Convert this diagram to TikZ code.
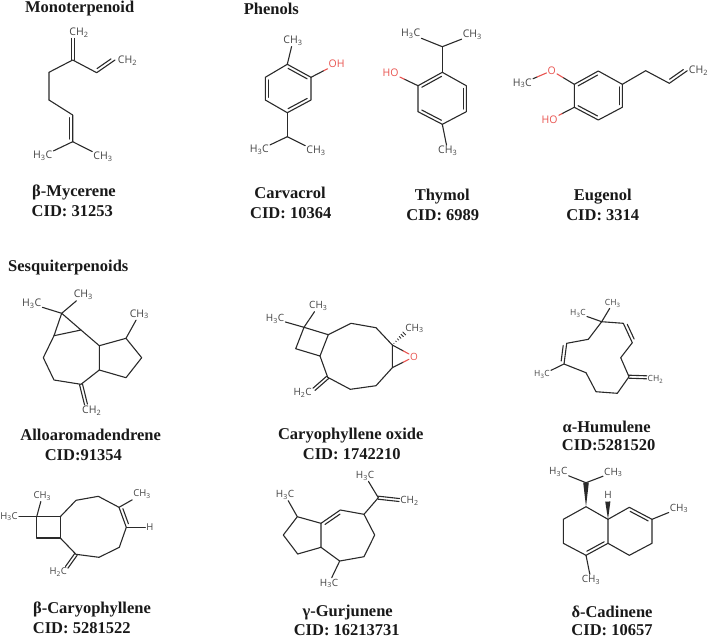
\documentclass[tikz,border=0pt]{standalone}
\usepackage{fontspec}
\usetikzlibrary{calc}
\setmainfont{Liberation Serif}
\newfontfamily\chemfont{Open Sans}
\definecolor{bondc}{HTML}{2A2A2A}
\definecolor{labelc}{HTML}{444444}
\definecolor{hetc}{HTML}{E8534F}
\tikzset{
  bond/.style={draw=bondc,line width=1.1pt,line cap=round,line join=round},
  hetbond/.style={draw=hetc,line width=1.1pt,line cap=round},
  lbl/.style={font=\chemfont\fontsize{#1}{#1}\selectfont,text=labelc,inner sep=1pt},
  lbl/.default=10,
  hetlbl/.style={lbl=#1,text=hetc},
  hetlbl/.default=10,
  title/.style={font=\fontsize{16.5}{16.5}\selectfont\bfseries,text=black!90,inner sep=0pt}
}
\newcommand\ringdbl[3]{\draw[bond,shorten >=2.6pt,shorten <=2.6pt] ($(#1)!3.2pt!#3:(#2)$) -- ($(#2)!3.2pt!-#3:(#1)$);}
\newcommand\symdbl[2]{\draw[bond] ($(#1)!1.5pt!90:(#2)$) -- ($(#2)!1.5pt!-90:(#1)$);\draw[bond] ($(#1)!1.5pt!-90:(#2)$) -- ($(#2)!1.5pt!90:(#1)$);}
\newcommand\hbond[2]{\draw[bond] (#1) -- ($(#1)!.5!(#2)$);\draw[hetbond] ($(#1)!.5!(#2)$) -- (#2);}
\newcommand\wedgebond[3]{\fill[bondc] (#1) -- ($(#2)!#3!90:(#1)$) -- ($(#2)!#3!-90:(#1)$) -- cycle;}
\begin{document}
\begin{tikzpicture}[x=1pt,y=-1pt]
\useasboundingbox (0,0) rectangle (708,638);

%% ---------- titles ----------
\node[title] (tMono) at (79.7,8.2) {Monoterpenoid};
\node[title] (tPhen) at (271.3,9.3) {Phenols};
\node[title] (tSesq) at (68.3,268) {Sesquiterpenoids};
\node[title] (n1a) at (74,192.5) {β-Mycerene};
\node[title] (n1b) at (72.3,210.7) {CID: 31253};
\node[title] (n2a) at (290,193.3) {Carvacrol};
\node[title] (n2b) at (290.7,213.3) {CID: 10364};
\node[title] (n3a) at (442.3,196.5) {Thymol};
\node[title] (n3b) at (442.7,215) {CID: 6989};
\node[title] (n4a) at (602.7,196.5) {Eugenol};
\node[title] (n4b) at (602.7,215) {CID: 3314};
\node[title] (n5a) at (90.7,435) {Alloaromadendrene};
\node[title] (n5b) at (83.3,455.3) {CID:91354};
\node[title] (n6a) at (350.7,435.5) {Caryophyllene oxide};
\node[title] (n6b) at (351.7,454) {CID: 1742210};
\node[title] (n7a) at (606.7,426.7) {α-Humulene};
\node[title] (n7b) at (608.7,445) {CID:5281520};
\node[title] (n8a) at (92,609.2) {β-Caryophyllene};
\node[title] (n8b) at (81.7,627.7) {CID: 5281522};
\node[title] (n9a) at (347.7,612.5) {γ-Gurjunene};
\node[title] (n9b) at (346.7,629.7) {CID: 16213731};
\node[title] (n10a) at (612,611.7) {δ-Cadinene};
\node[title] (n10b) at (612,629.7) {CID: 10657};

%% ---------- beta-mycerene ----------
\foreach \n/\x/\y in {a/72.7/60,aup/72.7/38.5,b/96.7/72.7,c/115/60,d/49/72.3,e/49/100,f/72.7/115,g/72.7/141.7}
  \coordinate (my\n) at (\x,\y);
\node[lbl=10.5] (myL1) at (79,33) {CH\textsubscript{2}};
\node[lbl=10.5] (myL2) at (127.5,60.7) {CH\textsubscript{2}};
\node[lbl=10.5] (myL3) at (42.7,156) {H\textsubscript{3}C};
\node[lbl=10.5] (myL4) at (103,157) {CH\textsubscript{3}};
\draw[bond] (mye) -- (myd) -- (mya) -- (myb) -- (myc);
\draw[bond] (mye) -- (myf) -- (myg);
\draw[bond] (myg) -- (myL3);
\draw[bond] (myg) -- (myL4);
\symdbl{mya}{myaup}
\ringdbl{myb}{myc}{90}
\ringdbl{myf}{myg}{-90}

%% ---------- carvacrol ----------
\foreach \n/\x/\y in {1/287.3/64.3,2/311/77.3,3/311/100,4/287.3/112.7,5/265.3/100,6/265.3/77.3,7/287.3/136.7}
  \coordinate (ca\n) at (\x,\y);
\node[lbl=10.5] (caL1) at (293,40.7) {CH\textsubscript{3}};
\node[hetlbl=10.5] (caL2) at (336.7,64) {OH};
\node[lbl=10.5] (caL3) at (259.3,150) {H\textsubscript{3}C};
\node[lbl=10.5] (caL4) at (316,151) {CH\textsubscript{3}};
\draw[bond] (ca1) -- (ca2) -- (ca3) -- (ca4) -- (ca5) -- (ca6) -- cycle;
\draw[bond] (ca1) -- (caL1);
\hbond{ca2}{caL2}
\draw[bond] (ca4) -- (ca7);
\draw[bond] (ca7) -- (caL3);
\draw[bond] (ca7) -- (caL4);
\ringdbl{ca1}{ca2}{-90}
\ringdbl{ca3}{ca4}{-90}
\ringdbl{ca5}{ca6}{-90}

%% ---------- thymol ----------
\foreach \n/\x/\y in {1/442.3/72.3,2/466.3/85.7,3/466.3/111.7,4/442.3/124.3,5/418/111.7,6/418/85.7,7/442.3/46.7}
  \coordinate (th\n) at (\x,\y);
\node[lbl=10.5] (thL1) at (410.7,34) {H\textsubscript{3}C};
\node[lbl=10.5] (thL2) at (472.3,35) {CH\textsubscript{3}};
\node[hetlbl=10.5] (thL3) at (390.7,72.7) {HO};
\node[lbl=10.5] (thL4) at (447.7,151) {CH\textsubscript{3}};
\draw[bond] (th1) -- (th2) -- (th3) -- (th4) -- (th5) -- (th6) -- cycle;
\draw[bond] (th1) -- (th7);
\draw[bond] (th7) -- (thL1);
\draw[bond] (th7) -- (thL2);
\hbond{th6}{thL3}
\draw[bond] (th4) -- (thL4);
\ringdbl{th6}{th1}{-90}
\ringdbl{th2}{th3}{-90}
\ringdbl{th4}{th5}{-90}

%% ---------- eugenol ----------
\foreach \n/\x/\y in {1/598.3/71,2/622.3/84.3,3/622.3/107.3,4/598.3/120,5/574.3/107.3,6/574.3/84.3,7/645.7/70.7,8/669.3/83.3,9/687.3/70.7}
  \coordinate (eu\n) at (\x,\y);
\node[hetlbl=10.5] (euO) at (551.7,70.7) {O};
\node[lbl=10.5] (euL1) at (522.3,83.3) {H\textsubscript{3}C};
\node[hetlbl=10.5] (euL2) at (549.7,120) {HO};
\node[lbl=10.5] (euL3) at (698.5,70.7) {CH\textsubscript{2}};
\draw[bond] (eu1) -- (eu2) -- (eu3) -- (eu4) -- (eu5) -- (eu6) -- cycle;
\draw[bond] (eu2) -- (eu7) -- (eu8) -- (eu9);
\hbond{eu6}{euO}
\hbond{euL1}{euO}
\hbond{eu5}{euL2}
\ringdbl{eu6}{eu1}{-90}
\ringdbl{eu2}{eu3}{-90}
\ringdbl{eu4}{eu5}{-90}
\ringdbl{eu8}{eu9}{90}

%% ---------- alloaromadendrene ----------
\foreach \n/\x/\y in {t/61.7/313.3,l/54/335.7,r/81/330,a/99.3/345.7,b/99.3/370,c/81/384.3,d/54/380,e/43.3/357.7,f/126/338.3,g/141.7/357.7,h/126/377.7,i/86/404.5}
  \coordinate (al\n) at (\x,\y);
\node[lbl=10.5] (alL1) at (31.7,304) {H\textsubscript{3}C};
\node[lbl=10.5] (alL2) at (83.3,295) {CH\textsubscript{3}};
\node[lbl=10.5] (alL3) at (139.3,314.3) {CH\textsubscript{3}};
\node[lbl=10.5] (alL4) at (91.7,410.7) {CH\textsubscript{2}};
\draw[bond] (alt) -- (all) -- (alr) -- cycle;
\draw[bond] (alr) -- (ala) -- (alb) -- (alc) -- (ald) -- (ale) -- (all);
\draw[bond] (ala) -- (alf) -- (alg) -- (alh) -- (alb);
\draw[bond] (alt) -- (alL1);
\draw[bond] (alt) -- (alL2);
\draw[bond] (alf) -- (alL3);
\symdbl{alc}{ali}

%% ---------- caryophyllene oxide ----------
\foreach \n/\x/\y in {1/304/327.3,2/328.3/334.7,3/320/356,4/295.7/348.7,5/351/323.3,6/376/327.7,7/392.3/345,8/392.3/367.7,9/376/385.7,10/350.3/389.3,11/327.7/377.3,12/314/389.3,13/406/331.7}
  \coordinate (co\n) at (\x,\y);
\node[lbl=10] (coL1) at (275,319) {H\textsubscript{3}C};
\node[lbl=10] (coL2) at (318.3,306) {CH\textsubscript{3}};
\node[lbl=10] (coL3) at (302.7,392.7) {H\textsubscript{2}C};
\node[lbl=10] (coL4) at (414.5,328.3) {CH\textsubscript{3}};
\node[hetlbl=10] (coO) at (414,356.7) {O};
\draw[bond] (co1) -- (co2) -- (co3) -- (co4) -- cycle;
\draw[bond] (co2) -- (co5) -- (co6) -- (co7) -- (co8) -- (co9) -- (co10) -- (co11) -- (co3);
\draw[bond] (co1) -- (coL1);
\draw[bond] (co1) -- (coL2);
\symdbl{co11}{co12}
\hbond{co7}{coO}
\hbond{co8}{coO}
\foreach \t [evaluate=\t as \d using \t*2.6] in {.12,.27,.42,.57,.72,.87,1}
  \draw[bondc,line width=0.8pt] ($(co7)!\t!(co13)!\d pt!90:(co13)$) -- ($(co7)!\t!(co13)!\d pt!-90:(co13)$);

%% ---------- alpha-humulene ----------
\foreach \n/\x/\y in {1/601.7/321.7,2/623.3/323.3,3/632.3/342.7,4/620.7/357.7,5/629/376.7,6/646.7/377.3,7/617.3/393.3,8/596/391.7,9/586/372.7,10/564/364,11/566.7/343.3,12/588.3/339.3}
  \coordinate (hu\n) at (\x,\y);
\node[lbl=8.5] (huL1) at (612.7,303.3) {CH\textsubscript{3}};
\node[lbl=8.5] (huL2) at (578,313.3) {H\textsubscript{3}C};
\node[lbl=8.5] (huL3) at (655.5,379.3) {CH\textsubscript{2}};
\node[lbl=8.5] (huL4) at (542,374.7) {H\textsubscript{3}C};
\draw[bond] (hu1) -- (hu2) -- (hu3) -- (hu4) -- (hu5) -- (hu7) -- (hu8) -- (hu9) -- (hu10) -- (hu11) -- (hu12) -- cycle;
\draw[bond] (hu1) -- (huL1);
\draw[bond] (hu1) -- (huL2);
\draw[bond] (hu10) -- (huL4);
\symdbl{hu5}{hu6}
\ringdbl{hu2}{hu3}{90}
\ringdbl{hu10}{hu11}{90}

%% ---------- beta-caryophyllene ----------
\foreach \n/\x/\y in {1/36.7/516.7,2/60.3/516.7,3/60.3/538,4/36.7/538,5/76/500.3,6/98.3/496.3,7/119/507.3,8/126.3/527.3,9/119.3/547.3,10/99/557.3,11/76/554.3,12/66.7/567.3}
  \coordinate (bc\n) at (\x,\y);
\node[lbl=9.5] (bcL1) at (42.3,496) {CH\textsubscript{3}};
\node[lbl=9.5] (bcL2) at (9,516.7) {H\textsubscript{3}C};
\node[lbl=9.5] (bcL3) at (142,494.3) {CH\textsubscript{3}};
\node[lbl=9.5] (bcL4) at (150,527.3) {H};
\node[lbl=9.5] (bcL5) at (58.3,572.3) {H\textsubscript{2}C};
\draw[bond] (bc1) -- (bc2) -- (bc3) -- (bc4) -- cycle;
\draw[bond] (bc2) -- (bc5) -- (bc6) -- (bc7) -- (bc8) -- (bc9) -- (bc10) -- (bc11) -- (bc3);
\draw[bond] (bc1) -- (bcL1);
\draw[bond] (bc1) -- (bcL2);
\draw[bond] (bc7) -- (bcL3);
\draw[bond] (bc8) -- (bcL4);
\symdbl{bc11}{bc12}
\ringdbl{bc7}{bc8}{90}

%% ---------- gamma-gurjunene ----------
\foreach \n/\x/\y in {1/297.3/516.7,2/321/523.3,3/321/547.3,4/297.7/554,5/283.3/535,6/340.3/510,7/364/514.3,8/374.7/535,9/364/556.7,10/339.7/561,11/378.3/497.7,12/399.3/500}
  \coordinate (gu\n) at (\x,\y);
\node[lbl=10] (guL1) at (285,495) {H\textsubscript{3}C};
\node[lbl=10] (guL2) at (329,583.3) {H\textsubscript{3}C};
\node[lbl=10] (guL3) at (365,475.7) {H\textsubscript{3}C};
\node[lbl=10] (guL4) at (409.5,501) {CH\textsubscript{2}};
\draw[bond] (gu1) -- (gu2) -- (gu3) -- (gu4) -- (gu5) -- cycle;
\draw[bond] (gu2) -- (gu6) -- (gu7) -- (gu8) -- (gu9) -- (gu10) -- (gu3);
\draw[bond] (gu7) -- (gu11);
\draw[bond] (gu1) -- (guL1);
\draw[bond] (gu10) -- (guL2);
\draw[bond] (gu11) -- (guL3);
\symdbl{gu11}{gu12}
\ringdbl{gu2}{gu6}{-90}

%% ---------- delta-cadinene ----------
\foreach \n/\x/\y in {1/586/506.7,2/563.3/519.3,3/563.3/543.3,4/586/555.3,5/608/543.3,6/608/519.3,7/629.3/507.3,8/652/519.3,9/652/543.3,10/629.3/555.3,11/586/482.7,12/607.8/501.5}
  \coordinate (cd\n) at (\x,\y);
\node[lbl=10] (cdL1) at (558.3,471.7) {H\textsubscript{3}C};
\node[lbl=10] (cdL2) at (613.3,472.3) {CH\textsubscript{3}};
\node[lbl=10] (cdL3) at (608,495) {H};
\node[lbl=10] (cdL4) at (679,508.3) {CH\textsubscript{3}};
\node[lbl=10] (cdL5) at (591,580) {CH\textsubscript{3}};
\draw[bond] (cd1) -- (cd2) -- (cd3) -- (cd4) -- (cd5) -- (cd6) -- cycle;
\draw[bond] (cd6) -- (cd7) -- (cd8) -- (cd9) -- (cd10) -- (cd5);
\draw[bond] (cd11) -- (cdL1);
\draw[bond] (cd11) -- (cdL2);
\draw[bond] (cd8) -- (cdL4);
\draw[bond] (cd4) -- (cdL5);
\wedgebond{cd1}{cd11}{2.8pt}
\wedgebond{cd6}{cd12}{2.6pt}
\ringdbl{cd4}{cd5}{90}
\ringdbl{cd7}{cd8}{-90}
\end{tikzpicture}
\end{document}
